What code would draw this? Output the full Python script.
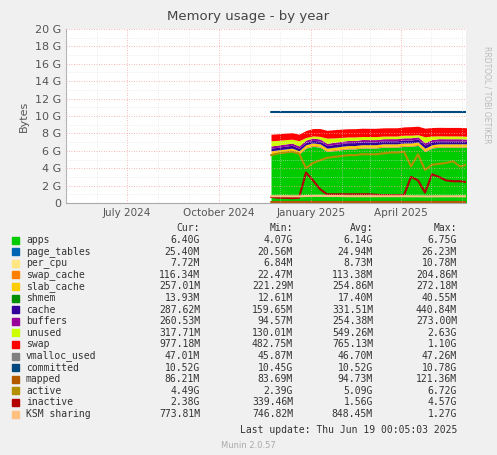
import numpy as np, pandas as pd, seaborn as sns, matplotlib
matplotlib.use("Agg")
import matplotlib.pyplot as plt, matplotlib.dates as mdates

dates = pd.date_range("2024-11-22", periods=29, freq="7D")
apps = [5.6,5.7,5.8,5.9,5.6,6.3,6.5,6.4,5.9,6.0,6.1,6.2,6.2,6.3,6.3,6.3,6.4,6.4,6.4,6.5,6.5,6.6,5.9,6.3,6.4,6.4,6.4,6.4,6.4]
page_tables = [0.025]*29
per_cpu = [0.008]*29
swap_cache = [0.11]*29
slab_cache = [0.25]*29
shmem = [0.014]*29
cache = [0.30,0.30,0.32,0.33,0.30,0.28,0.3,0.3,0.3,0.32,0.33,0.33,0.33,0.34,0.33,0.33,0.33,0.34,0.34,0.34,0.34,0.34,0.36,0.34,0.34,0.33,0.33,0.33,0.29]
buffers = [0.25]*29
unused = [0.6,0.55,0.5,0.45,0.6,0.3,0.25,0.3,0.6,0.5,0.45,0.4,0.4,0.35,0.35,0.35,0.3,0.3,0.3,0.3,0.3,0.25,0.7,0.4,0.32,0.32,0.32,0.32,0.32]
swap = [0.75,0.75,0.75,0.75,0.75,0.8,0.85,0.9,0.9,0.95,0.95,0.95,0.95,0.95,0.95,0.95,0.95,0.95,0.95,0.95,0.98,0.98,0.98,0.98,0.98,0.98,0.98,0.98,0.98]
vmalloc_used = [0.047]*29
committed = [10.5]*29
mapped = [0.086]*29
active = [5.5,5.7,5.8,5.9,5.7,4.0,4.6,4.9,5.2,5.3,5.4,5.5,5.5,5.6,5.6,5.6,5.7,5.8,5.8,5.9,4.2,5.6,3.8,4.4,4.5,4.6,4.8,4.2,4.4]
inactive = [0.7,0.6,0.6,0.55,0.6,3.5,2.6,1.6,1.0,1.0,1.0,1.0,1.0,1.0,1.0,0.95,0.9,0.9,0.9,0.9,3.0,2.6,1.2,3.3,3.0,2.6,2.5,2.5,2.4]
ksm = [0.78,0.78,0.78,0.77,0.77,0.8,0.82,0.82,0.8,0.8,0.8,0.78,0.78,0.78,0.78,0.78,0.78,0.78,0.78,0.78,0.77,0.77,0.76,0.76,0.77,0.77,0.77,0.77,0.77]

stack_names = ["apps","page_tables","per_cpu","swap_cache","slab_cache","shmem","cache","buffers","unused","swap"]
stack_vals = [apps,page_tables,per_cpu,swap_cache,slab_cache,shmem,cache,buffers,unused,swap]
stack_cols = ["#00CC00","#0066B3","#FFE680","#FF8000","#FFCC00","#008F00","#330099","#990099","#CCFF00","#FF0000"]
line_names = ["vmalloc_used","committed","mapped","active","inactive","KSM sharing"]
line_vals = [vmalloc_used,committed,mapped,active,inactive,ksm]
line_cols = ["#808080","#00487D","#B35A00","#B38F00","#B30000","#FFC080"]
legend_rows = [
 ("apps","6.40G","4.07G","6.14G","6.75G"),("page_tables","25.40M","20.56M","24.94M","26.23M"),
 ("per_cpu","7.72M","6.84M","8.73M","10.78M"),("swap_cache","116.34M","22.47M","113.38M","204.86M"),
 ("slab_cache","257.01M","221.29M","254.86M","272.18M"),("shmem","13.93M","12.61M","17.40M","40.55M"),
 ("cache","287.62M","159.65M","331.51M","440.84M"),("buffers","260.53M","94.57M","254.38M","273.00M"),
 ("unused","317.71M","130.01M","549.26M","2.63G"),("swap","977.18M","482.75M","765.13M","1.10G"),
 ("vmalloc_used","47.01M","45.87M","46.70M","47.26M"),("committed","10.52G","10.45G","10.52G","10.78G"),
 ("mapped","86.21M","83.69M","94.73M","121.36M"),("active","4.49G","2.39G","5.09G","6.72G"),
 ("inactive","2.38G","339.46M","1.56G","4.57G"),("KSM sharing","773.81M","746.82M","848.45M","1.27G")]

sns.set_style("white")
plt.rcParams['font.family'] = ['DejaVu Sans']
W,H = 497,455
fig = plt.figure(figsize=(W/100,H/100), dpi=100, facecolor="#F0F0F0")
ax = fig.add_axes([66/W, 1-203/H, 400/W, 174/H])
ax.set_facecolor("white")
x = mdates.date2num(dates)
ax.stackplot(x, *stack_vals, colors=stack_cols, linewidth=0)
for v,c in zip(line_vals,line_cols):
    sns.lineplot(x=x, y=v, color=c, ax=ax, linewidth=1.5 if c!="#808080" else 1)
ax.set_xlim(mdates.date2num(pd.Timestamp("2024-05-01")), mdates.date2num(pd.Timestamp("2025-06-05")))
ax.set_ylim(0,20)
ax.set_yticks(range(0,21,2))
ax.set_yticks(np.arange(1,20,2), minor=True)
ax.set_yticklabels(["0"]+[f"{i} G" for i in range(2,21,2)], fontsize=8, color="#555")
ax.xaxis.set_major_locator(mdates.MonthLocator(bymonth=[1,4,7,10]))
ax.xaxis.set_major_formatter(mdates.DateFormatter("%B %Y"))
ax.xaxis.set_minor_locator(mdates.MonthLocator())
ax.tick_params(axis="x", labelsize=7.5, colors="#555", length=0)
ax.tick_params(axis="y", length=0, which="both")
ax.grid(True, which="major", color="#F0A0A0", linestyle=(0,(1,2)), linewidth=0.6)
ax.grid(True, which="minor", color="#DDDDDD", linestyle=(0,(1,2)), linewidth=0.5)
ax.set_axisbelow(False)
for s in ["top","right"]: ax.spines[s].set_visible(False)
for s in ["left","bottom"]: ax.spines[s].set_color("#AAAAAA")
ax.set_ylabel("Bytes", fontsize=8, color="#555")
fig.text(0.5, 1-20/H, "Memory usage - by year", ha="center", fontsize=9.5, color="#444")
fig.text(487/W, 1-95/H, "RRDTOOL / TOBI OETIKER", rotation=270, ha="center", va="center", fontsize=5.5, color="#BBBBBB")
fs=7
for xx,t in zip([200,293,373,457],["Cur:","Min:","Avg:","Max:"]):
    fig.text(xx/W, 1-228/H, t, ha="right", va="center", fontsize=fs, color="#333", family="DejaVu Sans Mono")
cols = stack_cols+line_cols
for i,(row,c) in enumerate(zip(legend_rows,cols)):
    y = 1-(240+i*11.6)/H
    fig.patches.append(plt.Rectangle((12/W,y-3.5/H),7/W,7/H,transform=fig.transFigure,color=c,figure=fig))
    fig.text(26/W, y, row[0], va="center", fontsize=fs, color="#333", family="DejaVu Sans Mono")
    for xx,t in zip([200,293,373,457],row[1:]):
        fig.text(xx/W, y, t, ha="right", va="center", fontsize=fs, color="#333", family="DejaVu Sans Mono")
fig.text(457/W, 1-430/H, "Last update: Thu Jun 19 00:05:03 2025", ha="right", va="center", fontsize=fs, color="#333", family="DejaVu Sans Mono")
fig.text(0.5, 1-446/H, "Munin 2.0.57", ha="center", va="center", fontsize=6, color="#AAAAAA")
fig.savefig("out.png", dpi=100, facecolor=fig.get_facecolor())
